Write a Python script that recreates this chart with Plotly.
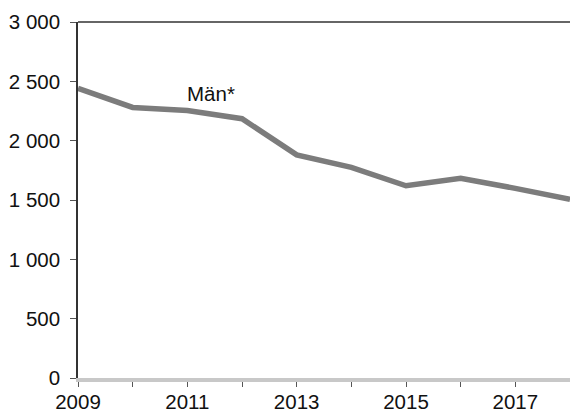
import plotly.graph_objects as go

years = [2009, 2010, 2011, 2012, 2013, 2014, 2015, 2016, 2017, 2018]
man = [2440, 2280, 2255, 2185, 1880, 1775, 1620, 1683, 1598, 1505]
series_name = "Män*"
y_ticks = [0, 500, 1000, 1500, 2000, 2500, 3000]
y_tick_labels = ["0", "500", "1 000", "1 500", "2 000", "2 500", "3 000"]
x_ticks = list(range(2009, 2019))
x_tick_labels = ["2009", "", "2011", "", "2013", "", "2015", "", "2017", ""]
label_x, label_y = 2011.43, 2400

FONT = "Liberation Sans, Arial, sans-serif"

fig = go.Figure()
fig.add_trace(go.Scatter(
    x=years, y=man, mode="lines", name=series_name,
    line=dict(color="#7c7c7c", width=5.5),
    cliponaxis=True, hoverinfo="skip",
))

fig.add_annotation(
    x=label_x, y=label_y, text=series_name, showarrow=False,
    font=dict(family=FONT, size=20.5, color="#111111"),
    xanchor="center", yanchor="middle",
)

fig.add_shape(type="line", xref="paper", yref="paper", x0=0, x1=1, y0=1, y1=1,
              line=dict(color="#333333", width=1.5))

fig.update_layout(
    width=570, height=409,
    margin=dict(l=78, r=0, t=22, b=31, autoexpand=False),
    paper_bgcolor="white", plot_bgcolor="white",
    showlegend=False,
    font=dict(family=FONT, size=20.5, color="#111111"),
)
fig.update_xaxes(
    range=[2009, 2018], tickmode="array", tickvals=x_ticks, ticktext=x_tick_labels,
    showgrid=False, zeroline=False, showline=True, linecolor="#c8c8c8", linewidth=4,
    ticks="outside", ticklen=5, tickcolor="#555555", tickwidth=1,
    ticklabelstandoff=-3, automargin=False,
    tickfont=dict(family=FONT, size=20.5, color="#111111"),
)
fig.update_yaxes(
    range=[0, 3000], tickmode="array", tickvals=y_ticks, ticktext=y_tick_labels,
    showgrid=False, zeroline=False, showline=True, linecolor="#333333", linewidth=1.5,
    ticks="outside", ticklen=6, tickcolor="#555555", tickwidth=1,
    ticklabelstandoff=6, automargin=False,
    tickfont=dict(family=FONT, size=20.5, color="#111111"),
)

fig.write_html(
    "out.html",
    config={"displayModeBar": False},
    post_script="document.body.style.margin='0';document.documentElement.style.overflow='hidden';document.body.style.overflow='hidden';",
)
